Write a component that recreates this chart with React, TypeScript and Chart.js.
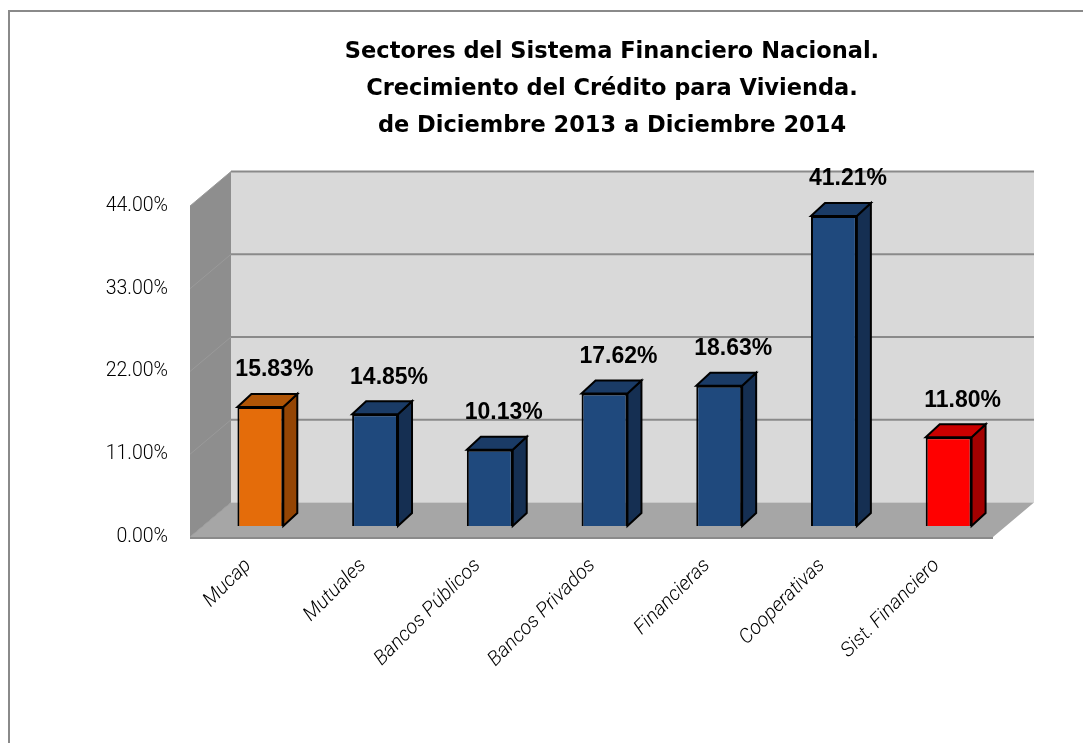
import React, { useEffect, useRef } from "react";
import { Chart, registerables } from "chart.js";

Chart.register(...registerables);

const titleLines = [
  "Sectores del Sistema Financiero Nacional.",
  "Crecimiento del Crédito para Vivienda.",
  "de Diciembre 2013 a Diciembre 2014",
];

const categories = [
  "Mucap",
  "Mutuales",
  "Bancos Públicos",
  "Bancos Privados",
  "Financieras",
  "Cooperativas",
  "Sist. Financiero",
];

const growth = [15.83, 14.85, 10.13, 17.62, 18.63, 41.21, 11.8];

const yMin = 0;
const yMax = 44;
const yStep = 11;

const ORANGE = { front: "#e46c0a", top: "#b05506", side: "#944504" };
const BLUE = { front: "#1f497d", top: "#1a3b66", side: "#152f52" };
const RED = { front: "#ff0000", top: "#cc0000", side: "#a30000" };
const barStyles = [ORANGE, BLUE, BLUE, BLUE, BLUE, BLUE, RED];

const FRONT = { dx: -13, dy: 11 };
const BACK = { dx: 28, dy: -23.5 };
const DEPTH = { dx: 14, dy: -13 };

function poly(ctx: CanvasRenderingContext2D, pts: number[][], fill: string, stroke?: string, lw = 2) {
  ctx.beginPath();
  ctx.moveTo(pts[0][0], pts[0][1]);
  for (let i = 1; i < pts.length; i++) ctx.lineTo(pts[i][0], pts[i][1]);
  ctx.closePath();
  ctx.fillStyle = fill;
  ctx.fill();
  if (stroke) {
    ctx.strokeStyle = stroke;
    ctx.lineWidth = lw;
    ctx.lineJoin = "miter";
    ctx.stroke();
  }
}

const threeD = {
  id: "threeD",
  beforeDatasetsDraw(chart: any) {
    const ctx = chart.ctx as CanvasRenderingContext2D;
    const { left, right } = chart.chartArea;
    const ys = chart.scales.y;
    const y0 = ys.getPixelForValue(ys.min);
    const y1 = ys.getPixelForValue(ys.max);
    ctx.save();
    poly(ctx, [
      [left + BACK.dx, y1 + BACK.dy],
      [right + BACK.dx, y1 + BACK.dy],
      [right + BACK.dx, y0 + BACK.dy],
      [left + BACK.dx, y0 + BACK.dy],
    ], "#d9d9d9");
    poly(ctx, [
      [left + FRONT.dx, y0 + FRONT.dy],
      [left + FRONT.dx, y1 + FRONT.dy],
      [left + BACK.dx, y1 + BACK.dy],
      [left + BACK.dx, y0 + BACK.dy],
    ], "#8e8e8e");
    poly(ctx, [
      [left + FRONT.dx, y0 + FRONT.dy],
      [right + FRONT.dx, y0 + FRONT.dy],
      [right + BACK.dx, y0 + BACK.dy],
      [left + BACK.dx, y0 + BACK.dy],
    ], "#a6a6a6");
    ys.ticks.forEach((t: any) => {
      const yp = ys.getPixelForValue(t.value);
      ctx.beginPath();
      ctx.moveTo(left + FRONT.dx, yp + FRONT.dy);
      ctx.lineTo(left + BACK.dx, yp + BACK.dy);
      ctx.strokeStyle = "#9a9a9a";
      ctx.lineWidth = 1;
      ctx.stroke();
      if (t.value !== 0) {
        ctx.beginPath();
        ctx.moveTo(left + BACK.dx, yp + BACK.dy);
        ctx.lineTo(right + BACK.dx, yp + BACK.dy);
        ctx.strokeStyle = "#8a8a8a";
        ctx.lineWidth = 2;
        ctx.stroke();
      }
    });
    ctx.beginPath();
    ctx.moveTo(left + FRONT.dx, y0 + FRONT.dy + 1);
    ctx.lineTo(right + FRONT.dx, y0 + FRONT.dy + 1);
    ctx.strokeStyle = "#8a8a8a";
    ctx.lineWidth = 2;
    ctx.stroke();
    const meta = chart.getDatasetMeta(0);
    meta.data.forEach((el: any, i: number) => {
      const st = barStyles[i];
      const w = el.width;
      const l = el.x - w / 2;
      const r = el.x + w / 2;
      const top = el.y;
      const base = el.base;
      poly(ctx, [
        [r, top],
        [r + DEPTH.dx, top + DEPTH.dy],
        [r + DEPTH.dx, base + DEPTH.dy],
        [r, base],
      ], st.side, "#000", 2);
      poly(ctx, [
        [l, top],
        [l + DEPTH.dx, top + DEPTH.dy],
        [r + DEPTH.dx, top + DEPTH.dy],
        [r, top],
      ], st.top, "#000", 2);
    });
    ctx.restore();
  },
  afterDatasetsDraw(chart: any) {
    const ctx = chart.ctx as CanvasRenderingContext2D;
    const meta = chart.getDatasetMeta(0);
    ctx.save();
    ctx.font = "bold 23px 'Liberation Sans', Arial, sans-serif";
    ctx.fillStyle = "#000";
    ctx.textAlign = "center";
    ctx.textBaseline = "middle";
    meta.data.forEach((el: any, i: number) => {
      ctx.fillText(growth[i].toFixed(2) + "%", el.x + 14, el.y - 37);
    });
    ctx.restore();
  },
  afterDraw(chart: any) {
    const ctx = chart.ctx as CanvasRenderingContext2D;
    ctx.save();
    ctx.font = "bold 22.5px 'DejaVu Sans', sans-serif";
    ctx.fillStyle = "#000";
    ctx.textAlign = "center";
    ctx.textBaseline = "middle";
    titleLines.forEach((line, i) => {
      ctx.fillText(line, 602, 40 + i * 37);
    });
    ctx.restore();
  },
};

export default function App() {
  const ref = useRef<HTMLCanvasElement | null>(null);
  useEffect(() => {
    if (!ref.current) return;
    const chart = new Chart(ref.current, {
      type: "bar",
      data: {
        labels: categories,
        datasets: [
          {
            data: growth,
            backgroundColor: barStyles.map((s) => s.front),
            borderColor: "#000",
            borderWidth: 2,
            barPercentage: 0.4,
            categoryPercentage: 1,
          },
        ],
      },
      options: {
        animation: false,
        responsive: true,
        maintainAspectRatio: false,
        layout: { padding: { top: 183, right: 77, bottom: 0, left: 0 } },
        plugins: {
          legend: { display: false },
          title: { display: false },
          tooltip: { enabled: false },
        },
        scales: {
          x: {
            grid: { display: false },
            border: { display: false },
            afterFit: (s: any) => {
              s.height = 219;
            },
            ticks: {
              autoSkip: false,
              maxRotation: 45,
              minRotation: 45,
              padding: 20,
              labelOffset: -12,
              color: "#000",
              font: { family: "Roboto, sans-serif", size: 20, style: "italic", weight: "300" },
            },
          },
          y: {
            min: yMin,
            max: yMax,
            grid: { display: false },
            border: { display: false },
            afterFit: (s: any) => {
              s.width = 193;
            },
            ticks: {
              stepSize: yStep,
              padding: 27,
              labelOffset: 11,
              color: "#000",
              font: { family: "Roboto, sans-serif", size: 19.5, weight: "300" },
              callback: (v: any) => Number(v).toFixed(2) + "%",
            },
          },
        },
      },
      plugins: [threeD],
    });
    return () => chart.destroy();
  }, []);
  return (
    <div
      style={{
        position: "relative",
        top: 2,
        width: 1075,
        height: 735,
        borderTop: "2px solid #8a8a8a",
        borderLeft: "2px solid #8a8a8a",
        boxSizing: "border-box",
        background: "#fff",
      }}
    >
      <canvas ref={ref} />
    </div>
  );
}
